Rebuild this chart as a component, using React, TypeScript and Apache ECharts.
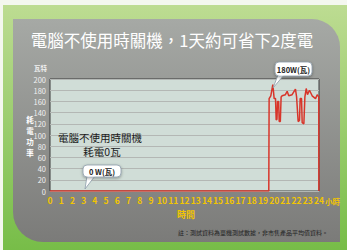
import React, { useEffect, useRef } from "react";
import * as echarts from "echarts";

const title = "電腦不使用時關機，1天約可省下2度電";
const hours = [0, 19.52, 19.55, 19.7, 19.88, 20.0, 20.12, 20.18, 20.25, 20.3, 20.4, 20.45, 20.55, 20.62, 20.71, 21.0, 21.16, 21.3, 21.6, 21.9, 22.0, 22.14, 22.26, 22.32, 22.44, 22.5, 22.65, 22.74, 22.86, 22.97, 23.15, 23.39, 23.69, 23.84, 23.98, 23.99];
const watts = [0, 0, 165, 170, 190, 165, 165, 127, 128, 160, 160, 124, 124, 168, 170, 172, 178, 170, 172, 182, 168, 124, 126, 165, 165, 122, 120, 168, 183, 172, 180, 170, 165, 172, 168, 0];
const yTicks = { min: 0, max: 200, step: 20 };
const xTicks = { min: 0, max: 24, step: 1 };
const yUnit = "瓦特";
const yName = "耗電功率";
const xName = "時間";
const xUnit = "小時";
const noteText = "註：測試資料為單機測試數據，非市售產品平均值資料。";
const centerLines = ["電腦不使用時關機", "耗電0瓦"];
const peakLabel = "180W(瓦)";
const zeroLabel = "0 W(瓦)";

const FONT = "'Noto Sans CJK TC', 'Noto Sans', sans-serif";

export default function App() {
  const ref = useRef<HTMLDivElement>(null);
  useEffect(() => {
    document.body.style.margin = "0";
    const chart = echarts.init(ref.current!, null, { renderer: "svg" });
    const data = hours.map((h, i) => [h, watts[i]]);
    const callout = (bx: number, by: number, bw: number, bh: number, tail: number[][], text: string) => ({
      type: "group",
      z: 100,
      children: [
        {
          type: "polygon",
          shape: { points: tail },
          style: { fill: "#ffffff", stroke: "#8a9aa8", lineWidth: 0.8 },
          z: 100,
        },
        {
          type: "rect",
          shape: { x: bx, y: by, width: bw, height: bh, r: 4 },
          style: { fill: "#ffffff", stroke: "#8a9aa8", lineWidth: 0.8, shadowBlur: 3, shadowColor: "rgba(0,0,0,0.35)", shadowOffsetY: 1 },
          z: 101,
        },
        {
          type: "polygon",
          shape: { points: [[tail[0][0] + 0.6, tail[0][1] - 1.5], [tail[1][0] - 0.6, tail[1][1] - 1.5], [tail[1][0] - 0.6, tail[1][1] + 0.4], [tail[0][0] + 0.6, tail[0][1] + 0.4]] },
          style: { fill: "#ffffff" },
          z: 102,
        },
        {
          type: "text",
          x: bx + bw / 2,
          y: by + bh / 2,
          style: { text, fill: "#222", font: `bold 7.5px ${FONT}`, align: "center", verticalAlign: "middle" },
          z: 103,
        },
      ],
    });
    const yNameChars = yName.split("").map((c, i) => ({
      type: "text",
      x: 30,
      y: 119 + i * 11,
      style: { text: c, fill: "#ffffff", font: `bold 7.5px ${FONT}`, align: "center", verticalAlign: "middle" },
    }));
    chart.setOption({
      animation: false,
      graphic: [
        {
          type: "rect",
          shape: { x: 3, y: 5, width: 344, height: 245 },
          style: {
            fill: new echarts.graphic.LinearGradient(0, 0, 0, 1, [
              { offset: 0, color: "#bddc92" },
              { offset: 1, color: "#77bd48" },
            ]),
          },
          z: -10,
        },
        {
          type: "rect",
          shape: { x: 13, y: 19, width: 327, height: 223, r: [0, 28, 0, 30] },
          style: {
            fill: new echarts.graphic.LinearGradient(0, 0, 0, 1, [
              { offset: 0, color: "#a6a9a5" },
              { offset: 1, color: "#7b7b79" },
            ]),
          },
          z: -9,
        },
        {
          type: "text",
          x: 172,
          y: 40,
          style: { text: title, fill: "#ffffff", font: `16.5px ${FONT}`, align: "center", verticalAlign: "middle" },
        },
        {
          type: "text",
          x: 47,
          y: 71,
          style: { text: yUnit, fill: "#f0f0f0", font: `bold 6.5px ${FONT}`, align: "right", verticalAlign: "bottom" },
        },
        ...yNameChars,
        {
          type: "text",
          x: 325,
          y: 201,
          style: { text: xUnit, fill: "#f2c500", font: `bold 7.5px ${FONT}`, align: "left", verticalAlign: "middle" },
        },
        {
          type: "text",
          x: 186,
          y: 214.5,
          style: { text: xName, fill: "#f2c500", font: `bold 9px ${FONT}`, align: "center", verticalAlign: "middle" },
        },
        {
          type: "text",
          x: 328,
          y: 232,
          style: { text: noteText, fill: "#222", font: `6px ${FONT}`, align: "right", verticalAlign: "middle" },
        },
        {
          type: "text",
          x: 100,
          y: 137,
          z: 50,
          style: { text: centerLines[0], fill: "#1a1a1a", font: `10.5px ${FONT}`, align: "center", verticalAlign: "middle" },
        },
        {
          type: "text",
          x: 102,
          y: 151,
          z: 50,
          style: { text: centerLines[1], fill: "#1a1a1a", font: `10.5px ${FONT}`, align: "center", verticalAlign: "middle" },
        },
        callout(275, 62, 37, 14, [[278, 75], [284, 75], [273, 88]], peakLabel),
        callout(83, 165, 38, 12, [[87, 176], [95, 176], [85, 189]], zeroLabel),
      ],
      grid: {
        left: 50,
        top: 79,
        right: 28,
        bottom: 59,
        show: true,
        backgroundColor: "#d0ddd7",
        borderColor: "#3a3a3a",
        borderWidth: 1,
      },
      xAxis: {
        type: "value",
        min: xTicks.min,
        max: xTicks.max,
        interval: xTicks.step,
        axisLine: { show: false },
        axisTick: { show: false },
        splitLine: { show: false },
        axisLabel: { color: "#f2c500", fontSize: 8.5, fontWeight: "bold", fontFamily: FONT, margin: 5, showMaxLabel: true, showMinLabel: true },
      },
      yAxis: {
        type: "value",
        min: yTicks.min,
        max: yTicks.max,
        interval: yTicks.step,
        axisLine: { show: false },
        axisTick: { show: false },
        splitLine: { lineStyle: { color: "#b3b7b4", width: 1 } },
        axisLabel: { color: "#f0f0f0", fontSize: 7.5, fontFamily: FONT, margin: 4, showMaxLabel: true, showMinLabel: true },
      },
      series: [
        {
          type: "line",
          data,
          symbol: "none",
          lineStyle: { color: "#d8352a", width: 1.5 },
          z: 10,
        },
      ],
    });
    return () => chart.dispose();
  }, []);
  return <div ref={ref} style={{ position: "fixed", left: 0, top: 0, width: 347, height: 250, background: "#f4f7ef" }} />;
}
